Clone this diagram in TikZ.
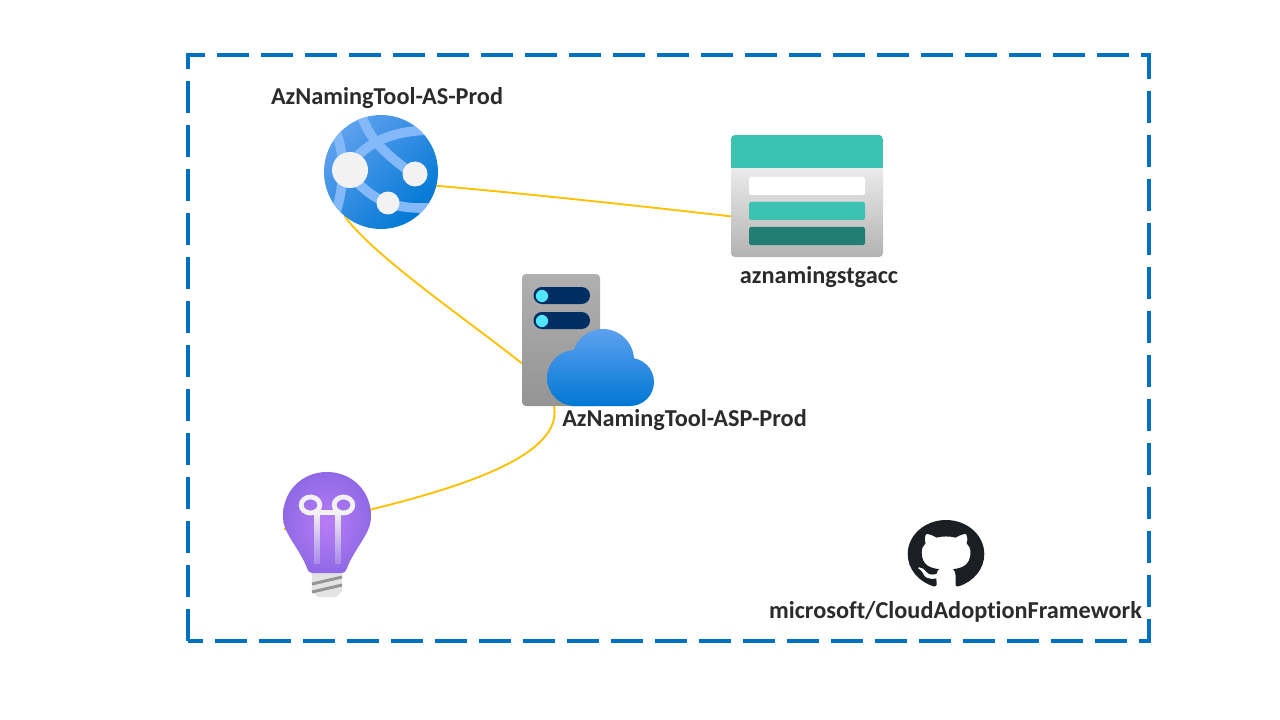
\documentclass[tikz,border=0pt]{standalone}
\usepackage{fontspec}
\setmainfont{Carlito}[Ligatures=NoCommon,Contextuals=NoAlternate]
\usetikzlibrary{svg.path}
\definecolor{frameblue}{HTML}{0070C0}
\definecolor{linkgold}{HTML}{FFC000}
\definecolor{labelink}{HTML}{2B2B2B}
\definecolor{teal1}{HTML}{3BC2B0}
\definecolor{teal2}{HTML}{227E72}
\definecolor{navy1}{HTML}{002D62}
\definecolor{cyan1}{HTML}{50E6FF}
\definecolor{band}{HTML}{83B9F9}
\definecolor{knob}{HTML}{F2F2F2}
\definecolor{ghdark}{HTML}{1B1F23}
\definecolor{azlight}{HTML}{5EA0EF}
\definecolor{azdark}{HTML}{0078D4}
\definecolor{bulbin}{HTML}{B87CF5}
\definecolor{bulbout}{HTML}{9069E6}
\definecolor{stemend}{HTML}{A98BEB}
\tikzset{
  frameline/.style={draw=frameblue,line width=3pt,dash pattern=on 24pt off 9pt},
  link/.style={draw=linkgold,line width=1.4pt},
  label/.style={font=\bfseries\fontsize{18.2}{22}\selectfont,text=labelink,inner sep=0pt},
  anchorbox/.style={rectangle,inner sep=0pt,outer sep=0pt},
  anchordisc/.style={circle,inner sep=0pt,outer sep=0pt},
  webband/.style={draw=band,line width=7.2pt},
}
\begin{document}
\begin{tikzpicture}[x=0.75pt,y=-0.75pt]
\useasboundingbox (0,0) rectangle (1280,720);
\fill[white] (0,0) rectangle (1280,720);
\coordinate (frameA) at (188,55);
\coordinate (frameB) at (1149,641);
\draw[frameline] (217,55) -- (frameA -| frameB) -- (frameB) -- (frameA |- frameB);
\draw[frameline] (frameA |- frameB) -- (frameA) -- (205,55);
% anchor nodes
\node[anchordisc,minimum size=85.5pt] (web) at (381,172) {};
\node[anchorbox,minimum width=114pt,minimum height=91.5pt] (stg) at (807,196) {};
\node[anchorbox,minimum width=58.5pt,minimum height=99pt] (plan) at (561,340) {};
\node[anchordisc,minimum size=67.5pt] (bulb) at (327,516) {};
% connectors
\draw[link] (web.-14) .. controls (520,193) and (640,206) .. (stg.195.4);
\draw[link] (web.230) .. controls (372,255) and (470,322) .. (plan.211.6);
\draw[link] (plan.264.8) .. controls (565,465) and (420,500) .. (bulb.197);
% web app icon
\shade[top color=azlight,bottom color=azdark,shading angle=45] (web.center) circle[radius=42.75pt];
\begin{scope}
\clip (web.center) circle[radius=42.75pt];
\draw[webband] (360,110) .. controls (368,142) and (392,158) .. (410,172);
\draw[webband] (350,165) .. controls (368,140) and (395,131) .. (430,130);
\draw[webband] (336,132) .. controls (345,155) and (345,185) .. (335,215);
\draw[webband] (355,180) .. controls (372,198) and (392,212) .. (440,207);
\node[circle,fill=knob,inner sep=0pt,minimum size=27pt] (webA) at (350,170) {};
\node[circle,fill=knob,inner sep=0pt,minimum size=18.75pt] (webB) at (415,174) {};
\node[circle,fill=knob,inner sep=0pt,minimum size=17.25pt] (webC) at (388,203) {};
\end{scope}
% storage icon
\begin{scope}
\clip[rounded corners=3pt] (731,135) rectangle (883,257);
\shade[top color=white!92!black,bottom color=black!30] (731,168) rectangle (883,257);
\fill[teal1] (731,135) rectangle (883,168);
\end{scope}
\fill[white,rounded corners=1.2pt] (749,177) rectangle (865,195);
\fill[teal1,rounded corners=1.2pt] (749,202) rectangle (865,220);
\fill[teal2,rounded corners=1.2pt] (749,227) rectangle (865,245);
% server + cloud
\shade[top color=black!31,bottom color=black!42,rounded corners=3pt] (522,274) rectangle (600,406);
\fill[navy1,rounded corners=6.3pt] (533.5,287) rectangle (590,304);
\fill[navy1,rounded corners=6.3pt] (533.5,312) rectangle (590,329);
\fill[cyan1] (542,296) circle[radius=4.6pt];
\fill[cyan1] (542,321) circle[radius=4.6pt];
\begin{scope}
\clip (575,378) circle[radius=21pt] (603,360) circle[radius=23.2pt] (630,382) circle[radius=18pt] (572,375) rectangle (630,406);
\shade[top color=azlight,bottom color=azdark] (540,329) rectangle (660,406);
\end{scope}
% bulb icon
\fill[black!11] (312,573) -- (312,591) -- (318,597) -- (336,597) -- (342,591) -- (342,573) -- cycle;
\draw[black!42,line width=2.2pt] (312,584) -- (342,577);
\draw[black!42,line width=2.2pt] (312,592) -- (342,585);
\shade[inner color=bulbin,outer color=bulbout]
  (327,472) .. controls (352,472) and (371,491) .. (371,516)
  .. controls (371,527) and (366,534) .. (362,541)
  .. controls (355,552) and (350,560) .. (347,568)
  .. controls (346,571) and (345,573) .. (342,573) -- (312,573)
  .. controls (309,573) and (308,571) .. (307,568)
  .. controls (304,560) and (299,552) .. (292,541)
  .. controls (288,534) and (283,527) .. (283,516)
  .. controls (283,491) and (302,472) .. (327,472) -- cycle;
\shade[top color=knob,bottom color=stemend] (314.5,512) rectangle (319.5,563);
\shade[top color=knob,bottom color=stemend] (335.5,512) rectangle (340.5,563);
\draw[knob,line width=3.6pt] (316,512.7) -- (338,512.7);
\draw[knob,line width=3.6pt] (310.5,505) ellipse[x radius=7pt,y radius=6pt];
\draw[knob,line width=3.6pt] (343.5,505) ellipse[x radius=7pt,y radius=6pt];
% github mark
\begin{scope}[shift={(907.7,520)},yscale=-0.89,scale=3.59]
\fill[ghdark] svg "M 8 0 C 3.58 0 0 3.58 0 8 c 0 3.54 2.29 6.53 5.47 7.59 0.4 0.07 0.55 -0.17 0.55 -0.38 0 -0.19 -0.01 -0.82 -0.01 -1.49 -2.01 0.37 -2.53 -0.49 -2.69 -0.94 -0.09 -0.23 -0.48 -0.94 -0.82 -1.13 -0.28 -0.15 -0.68 -0.52 -0.01 -0.53 0.63 -0.01 1.08 0.58 1.23 0.82 0.72 1.21 1.87 0.87 2.33 0.66 0.07 -0.52 0.28 -0.87 0.51 -1.07 -1.78 -0.2 -3.64 -0.89 -3.64 -3.95 0 -0.87 0.31 -1.59 0.82 -2.15 -0.08 -0.2 -0.36 -1.02 0.08 -2.12 0 0 0.67 -0.21 2.2 0.82 0.64 -0.18 1.32 -0.27 2 -0.27 0.68 0 1.36 0.09 2 0.27 1.53 -1.04 2.2 -0.82 2.2 -0.82 0.44 1.1 0.16 1.92 0.08 2.12 0.51 0.56 0.82 1.27 0.82 2.15 0 3.07 -1.87 3.75 -3.65 3.95 0.29 0.25 0.54 0.73 0.54 1.48 0 1.07 -0.01 1.93 -0.01 2.2 0 0.21 0.15 0.46 0.55 0.38 C 13.71 14.53 16 11.53 16 8 c 0 -4.42 -3.58 -8 -8 -8 z";
\end{scope}
% labels
\node[label] (lblWeb) at (387,98.5) {AzNamingTool-AS-Prod};
\node[label] (lblStg) at (819,277) {aznamingstgacc};
\node[label] (lblPlan) at (684.5,420.5) {AzNamingTool-ASP-Prod};
\node[label] (lblGh) at (955.5,611.5) {microsoft/CloudAdoptionFramework};
\end{tikzpicture}
\end{document}
